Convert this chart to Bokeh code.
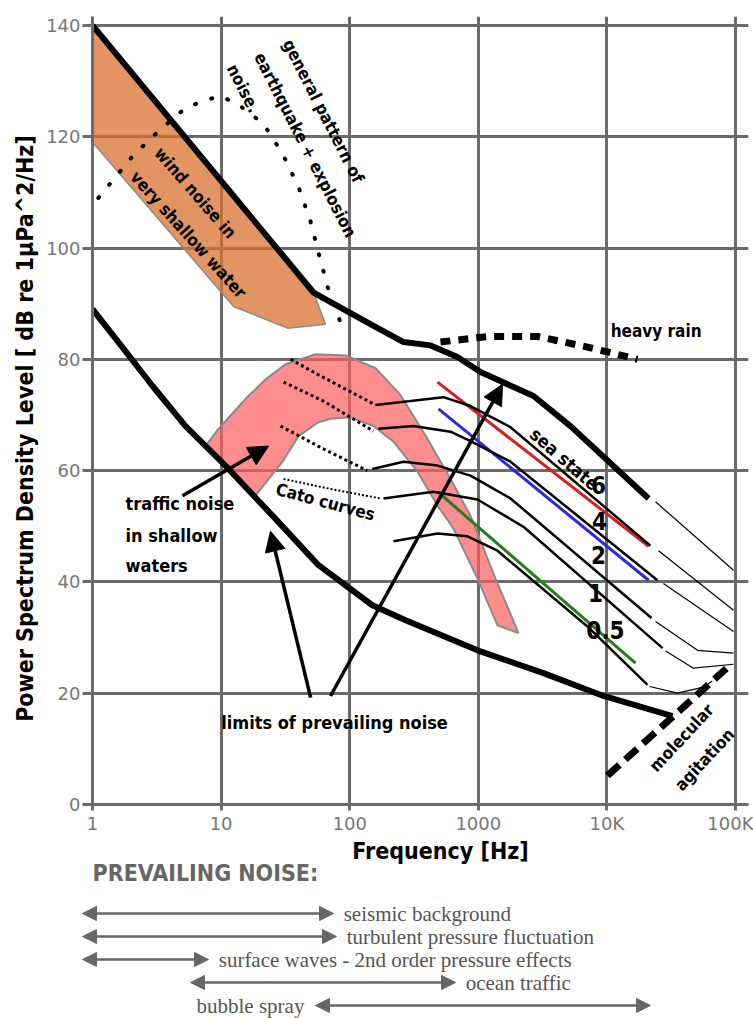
from bokeh.plotting import figure
from bokeh.models import Range1d, FixedTicker, Arrow, NormalHead
from bokeh.core.properties import value
from bokeh.embed import file_html
from bokeh.resources import INLINE

COND = "DejaVu Sans Condensed"
SERIF = "Liberation Serif"
GRID = "#6b6b6b"
TICKTXT = "#777777"

# ---------------- data (Hz, dB) ----------------
upper_f = [1, 52.3, 145, 262, 425, 689, 1040, 2690, 5210, 21100]
upper_db = [140, 92.0, 86.3, 83.1, 82.5, 80.4, 77.7, 73.4, 68.0, 55.0]
upper_thin_f = [23900, 96500]
upper_thin_db = [54.4, 42.1]

lower_f = [1, 1.59, 2.93, 5.29, 10.8, 25.1, 57.2, 150, 272, 986, 3210, 9410, 32400]
lower_db = [89.0, 83.1, 75.2, 68.0, 60.9, 51.9, 43.0, 35.8, 33.1, 27.7, 23.6, 19.5, 15.9]

wind_f = [1, 1, 12.5, 32.8, 64.8, 52.3]
wind_db = [140, 119, 89.5, 85.6, 86.3, 92.0]

quake_f = [1.11, 2.05, 3.26, 5.38, 9.54, 12.9, 21.4, 30.1, 40.0, 49.7, 58.2, 68.2, 84.9]
quake_db = [109.0, 116.5, 121.0, 125.3, 127.3, 126.2, 122.3, 116.9, 111.0, 104.7, 98.5, 92.6, 86.6]

traffic_f = [7.56, 9.54, 15.5, 22.2, 31.7, 54.2, 92.8, 159, 248, 403, 608, 869, 1360, 2055,
             1410, 986, 641, 482, 337, 219, 153, 101, 70.9, 57.2, 40.0, 30.0, 18.5]
traffic_db = [64.4, 67.5, 72.9, 76.4, 79.1, 80.9, 80.7, 78.4, 73.6, 65.7, 58.5, 51.9, 40.6, 30.8,
              32.2, 40.6, 49.6, 53.7, 59.8, 65.2, 68.0, 69.6, 69.3, 68.7, 66.2, 61.6, 55.5]

# Cato (dotted) parts
cato6_f, cato6_db = [34.7, 56.2, 159], [80.0, 77.3, 71.8]
cato4_f, cato4_db = [30.6, 62.5, 153], [75.9, 72.5, 67.1]
cato2_f, cato2_db = [29.0, 62.5, 137], [68.0, 63.9, 60.0]
cato1_f, cato1_db = [30.6, 70.9, 174], [58.5, 56.7, 55.0]

# sea-state curves (solid)
ss6_f, ss6_db = [159, 536, 869, 1780, 21800], [71.8, 73.2, 71.6, 67.8, 46.5]
ss4_f, ss4_db = [167, 313, 608, 869, 1780, 24700], [67.5, 68.0, 67.0, 65.3, 61.6, 40.3]
ss2_f, ss2_db = [150, 262, 482, 869, 1780, 22200], [60.3, 61.6, 60.9, 59.1, 55.0, 33.5]
ss1_f, ss1_db = [183, 448, 986, 2246, 27100], [55.0, 56.2, 54.8, 49.9, 28.1]
ss05_f, ss05_db = [219, 482, 824, 1410, 7060, 20700], [47.3, 48.7, 48.2, 45.6, 32.0, 21.5]

# thin high-frequency continuations
ss6t_f, ss6t_db = [25200, 96500], [45.6, 34.9]
ss4t_f, ss4t_db = [27500, 96500], [39.7, 31.1]
ss2t_f, ss2t_db = [23900, 50700, 96500], [32.9, 27.7, 27.2]
ss1t_f, ss1t_db = [28600, 47100, 96500], [27.6, 24.5, 25.2]
ss05t_f, ss05t_db = [21500, 35400, 56400, 66000], [21.2, 20.0, 21.1, 22.2]

red_f, red_db = [482, 21100], [75.9, 46.4]
blue_f, blue_db = [490, 21100], [71.1, 40.3]
green_f, green_db = [482, 16700], [56.2, 25.4]

rain_f = [508, 1180, 2886, 7060, 17300]
rain_db = [83.1, 84.1, 84.1, 82.2, 80.0]

molec_f, molec_db = [10100, 91400], [5.2, 25.1]

x_ticks = [1, 10, 100, 1000, 10000, 100000]
x_tick_labels = ["1", "10", "100", "1000", "10K", "100K"]
y_ticks = [0, 20, 40, 60, 80, 100, 120, 140]

# prevailing noise bands
noise_names = ["seismic background", "turbulent pressure fluctuation",
               "surface waves - 2nd order pressure effects", "ocean traffic", "bubble spray"]
noise_lo = [0.836, 0.836, 0.836, 5.78, 54.2]
noise_hi = [74.8, 78.9, 7.98, 665, 21800]
noise_label_side = ["right", "right", "right", "right", "left"]

# ---------------- main figure ----------------
p = figure(width=753, height=836, x_axis_type="log",
           x_range=Range1d(1, 126200), y_range=Range1d(0, 141.6),
           output_backend="svg", toolbar_location=None,
           min_border_left=92, min_border_right=5, min_border_top=16, min_border_bottom=29)
p.outline_line_color = None
p.background_fill_color = "white"
xt = FixedTicker(ticks=x_ticks)
yt = FixedTicker(ticks=y_ticks)
p.xaxis.ticker = xt
p.xgrid.ticker = xt
p.yaxis.ticker = yt
p.ygrid.ticker = yt
p.grid.grid_line_color = GRID
p.grid.grid_line_width = 3
p.grid.grid_line_alpha = 1
p.xaxis.major_label_overrides = {t: l for t, l in zip(x_ticks, x_tick_labels)}
for ax in p.axis:
    ax.axis_line_color = GRID
    ax.axis_line_width = 3
    ax.major_tick_line_color = GRID
    ax.major_tick_line_width = 3
    ax.minor_tick_line_color = None
    ax.major_tick_in = 0
    ax.major_label_text_color = TICKTXT
    ax.major_label_text_font = "DejaVu Sans"
    ax.major_label_text_font_size = "18px"
p.xaxis.major_tick_out = 6
p.yaxis.major_tick_out = 10
p.xaxis.major_label_standoff = 2
p.yaxis.major_label_standoff = 2
p.yaxis.axis_label = "Power Spectrum Density Level [ dB re 1\u03bcPa^2/Hz]" + "\u00a0" * 5
p.yaxis.axis_label_text_font = COND
p.yaxis.axis_label_text_font_style = "bold"
p.yaxis.axis_label_text_font_size = "23px"
p.yaxis.axis_label_text_color = "black"
p.yaxis.axis_label_standoff = 5

# fills
p.patch(traffic_f, traffic_db, fill_color="#ff5c5c", fill_alpha=0.7,
        line_color="#8a8a8a", line_width=2)
p.patch(wind_f, wind_db, fill_color="#d8722f", fill_alpha=0.75,
        line_color="#8a8a8a", line_width=1.5)

# earthquake dotted pattern
p.line(quake_f, quake_db, line_color="black", line_width=4, line_dash="1 16", line_cap="round")

# Cato dotted parts
for cf, cd in [(cato6_f, cato6_db), (cato4_f, cato4_db), (cato2_f, cato2_db)]:
    p.line(cf, cd, line_color="black", line_width=3, line_dash="3 3")
p.line(cato1_f, cato1_db, line_color="black", line_width=2, line_dash="2 2")

# coloured reference lines
p.line(red_f, red_db, line_color="#d42020", line_width=3)
p.line(blue_f, blue_db, line_color="#2a2ae0", line_width=3)
p.line(green_f, green_db, line_color="#2a7a1e", line_width=3)

# sea-state curves
for sf, sd in [(ss6_f, ss6_db), (ss4_f, ss4_db), (ss2_f, ss2_db), (ss1_f, ss1_db), (ss05_f, ss05_db)]:
    p.line(sf, sd, line_color="black", line_width=2.5, line_join="round")
for sf, sd in [(ss6t_f, ss6t_db), (ss4t_f, ss4t_db), (ss2t_f, ss2t_db), (ss1t_f, ss1t_db),
               (ss05t_f, ss05t_db), (upper_thin_f, upper_thin_db)]:
    p.line(sf, sd, line_color="black", line_width=1.2)

# limits
p.line(upper_f, upper_db, line_color="black", line_width=6, line_join="round")
p.line(lower_f, lower_db, line_color="black", line_width=6, line_join="round")

# heavy rain and molecular agitation
p.line(rain_f, rain_db, line_color="black", line_width=7, line_dash="10 8")
p.line(molec_f, molec_db, line_color="black", line_width=7, line_dash="16 8")


def label(fig, x, y, t, size=17, angle=0, align="center", color="black", font=COND, style="bold"):
    fig.text(x=[x], y=[y], text=[t], angle=angle, angle_units="deg",
             text_font=value(font), text_font_size=f"{size}px", text_font_style=style,
             text_color=color, text_align=align, text_baseline="middle")


def arrow(fig, x0, y0, x1, y1, color="black", width=3.5, size=20, both=False):
    head = dict(size=size, fill_color=color, line_color=color, line_width=1)
    fig.add_layout(Arrow(end=NormalHead(**head), start=NormalHead(**head) if both else None,
                         x_start=x0, y_start=y0, x_end=x1, y_end=y1,
                         line_width=width, line_color=color))


# annotations on the main chart
label(p, 62.5, 124.6, "general pattern of", angle=-63)
label(p, 45.3, 118.5, "earthquake + explosion", angle=-63)
label(p, 14.9, 128.7, "noise.", angle=-63)
label(p, 6.32, 109.9, "wind noise in", angle=-49)
label(p, 5.58, 102.4, "very shallow water", angle=-48)
label(p, 10700, 85.0, "heavy rain", align="left")
label(p, 64.8, 54.4, "Cato curves", angle=-15)
label(p, 4680, 62.1, "sea state", angle=-41, size=18)
for t, xx, yy in [("6", 8600, 57.5), ("4", 8760, 51.0), ("2", 8600, 44.8),
                  ("1", 8150, 38.0), ("0.5", 9750, 31.3)]:
    label(p, xx, yy, t, size=24)
label(p, 38000, 12.0, "molecular", angle=47)
label(p, 57400, 8.1, "agitation", angle=47)
label(p, 1.806, 54.1, "traffic noise", align="left", size=18)
label(p, 1.806, 48.3, "in shallow", align="left", size=18)
label(p, 1.806, 43.0, "waters", align="left", size=18)
label(p, 76.2, 14.7, "limits of prevailing noise", size=18)

arrow(p, 5.01, 55.5, 23.4, 64.4)
arrow(p, 49.7, 19.2, 24.2, 49.1)
arrow(p, 70.9, 19.5, 1542, 75.5)

# ---------------- bottom panel ----------------
ROW0, ROWSTEP, QH = 77, 23.0, 182


def row_of(px):
    return (px - ROW0) / ROWSTEP


q = figure(width=753, height=QH, x_axis_type="log",
           x_range=Range1d(0.674, 138000), y_range=Range1d(row_of(QH), row_of(0)),
           x_axis_location=None, y_axis_location=None,
           output_backend="svg", toolbar_location=None,
           min_border=0, min_border_left=70, min_border_right=0)
q.outline_line_color = None
q.xgrid.visible = False
q.ygrid.visible = False

label(q, 508, row_of(14), "Frequency [Hz]", size=23)
label(q, 1, row_of(36), "PREVAILING NOISE:", size=23, align="left", color="#666666")

for i, (nm, lo, hi, side) in enumerate(zip(noise_names, noise_lo, noise_hi, noise_label_side)):
    arrow(q, lo, i, hi, i, color="#666666", width=2.5, size=14, both=True)
    if side == "right":
        label(q, hi * 1.2, i, nm, size=21, align="left", color="#555555", font=SERIF, style="normal")
    else:
        label(q, lo / 1.22, i, nm, size=21, align="right", color="#555555", font=SERIF, style="normal")

open("out.html", "w").write(file_html([p, q], INLINE))
